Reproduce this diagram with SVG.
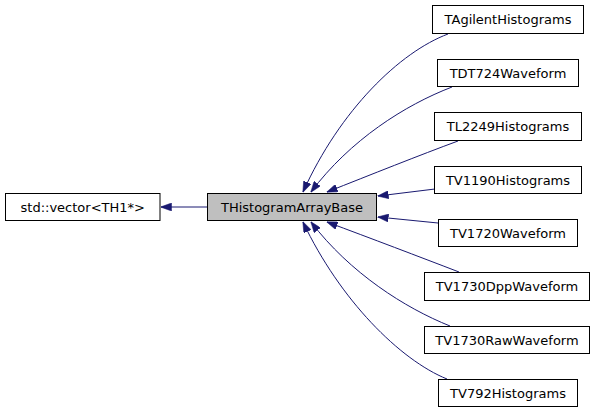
<svg xmlns="http://www.w3.org/2000/svg" width="597" height="413" viewBox="0 0 597 413">
<style>
.box{fill:#ffffff;stroke:#000000;stroke-width:1}
.base{fill:#bfbfbf;stroke:#000000;stroke-width:1}
.lbl{font-family:"DejaVu Sans","Liberation Sans",sans-serif;font-size:13px;fill:#000000;text-anchor:middle}
.edge{fill:none;stroke:#191970;stroke-width:1;marker-end:url(#arr)}
</style>
<defs>
<marker id="arr" viewBox="0 0 11 8" refX="10.5" refY="4" markerWidth="11" markerHeight="8" markerUnits="userSpaceOnUse" orient="auto">
<path d="M0,0 L11,4 L0,8 Z" fill="#191970" stroke="#191970" stroke-width="0.5"/>
</marker>
</defs>
<rect width="597" height="413" fill="#ffffff"/>
<g id="connectors">
<path class="edge" d="M207,207 L161,207"/>
<path class="edge" d="M448,34 C400,52 340,110 303,192"/>
<path class="edge" d="M452,87 C405,105 350,140 311,192"/>
<path class="edge" d="M458,141 C420,155 370,175 327,192"/>
<path class="edge" d="M435,189 L378,196"/>
<path class="edge" d="M438,223 L378,217"/>
<path class="edge" d="M459,272 C420,257 370,238 327,222"/>
<path class="edge" d="M450,326 C405,308 350,273 311,222"/>
<path class="edge" d="M447,379 C400,360 340,300 303,222"/>
</g>
<g id="node-vector"><rect class="box" x="5.5" y="193.5" width="154.5" height="27"/><text class="lbl" x="82.75" y="211.5">std::vector&lt;TH1*&gt;</text></g>
<g id="node-base"><rect class="base" x="207.5" y="193.5" width="169" height="27"/><text class="lbl" x="292" y="211.5">THistogramArrayBase</text></g>
<g id="node-agilent"><rect class="box" x="432.5" y="5.5" width="151" height="28"/><text class="lbl" x="508" y="24">TAgilentHistograms</text></g>
<g id="node-dt724"><rect class="box" x="437.5" y="59.5" width="141" height="27"/><text class="lbl" x="508" y="77.5">TDT724Waveform</text></g>
<g id="node-l2249"><rect class="box" x="434.5" y="112.5" width="147" height="28"/><text class="lbl" x="508" y="131">TL2249Histograms</text></g>
<g id="node-v1190"><rect class="box" x="434.5" y="166.5" width="147" height="27"/><text class="lbl" x="508" y="184.5">TV1190Histograms</text></g>
<g id="node-v1720"><rect class="box" x="438.5" y="219.5" width="139" height="27"/><text class="lbl" x="508" y="237.5">TV1720Waveform</text></g>
<g id="node-v1730dpp"><rect class="box" x="424.5" y="272.5" width="165" height="28"/><text class="lbl" x="507" y="291">TV1730DppWaveform</text></g>
<g id="node-v1730raw"><rect class="box" x="424.5" y="326.5" width="165" height="27"/><text class="lbl" x="507" y="344.5">TV1730RawWaveform</text></g>
<g id="node-v792"><rect class="box" x="438.5" y="379.5" width="139" height="27"/><text class="lbl" x="508" y="397.5">TV792Histograms</text></g>
</svg>
